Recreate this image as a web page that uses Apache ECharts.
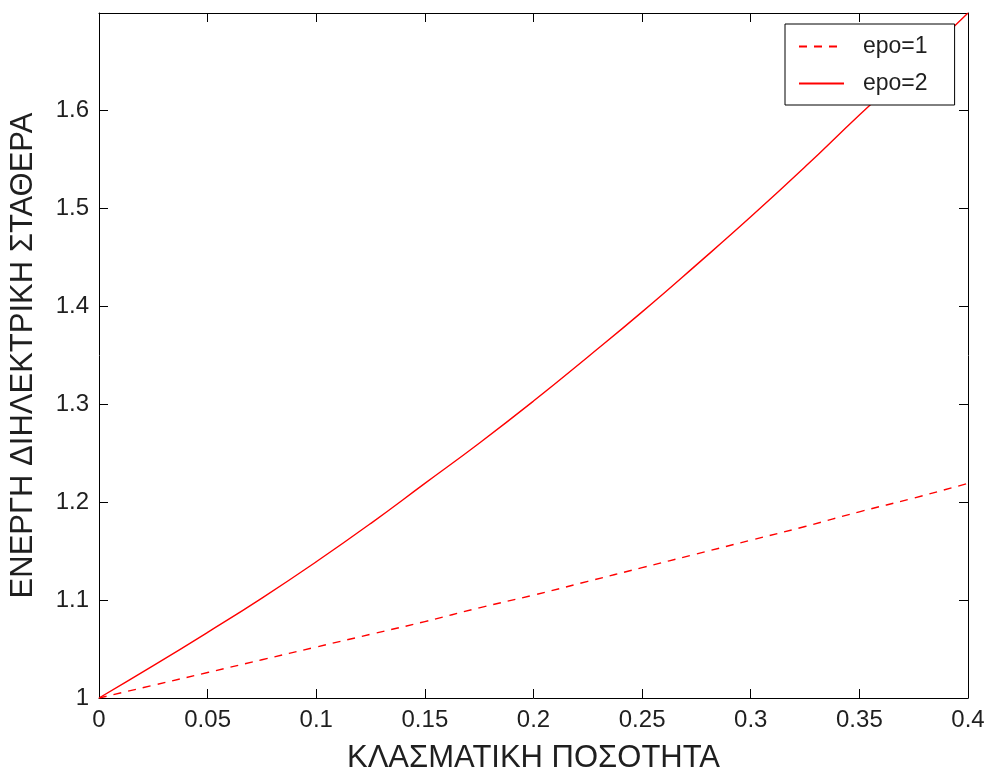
<!DOCTYPE html>
<html>
<head>
<meta charset="utf-8">
<script src="https://cdn.jsdelivr.net/npm/echarts@6/dist/echarts.min.js"></script>
<style>
html,body{margin:0;padding:0;background:#fff;}
#chart{width:989px;height:773px;}
</style>
</head>
<body>
<div id="chart"></div>
<script>
// Data
const xValues = [0, 0.025, 0.05, 0.075, 0.1, 0.125, 0.15, 0.175, 0.2, 0.225, 0.25, 0.275, 0.3, 0.325, 0.35, 0.375, 0.4];
const epo1 = [1.000, 1.013, 1.026, 1.039, 1.052, 1.065, 1.078, 1.092, 1.105, 1.119, 1.133, 1.147, 1.161, 1.175, 1.190, 1.204, 1.219];
const epo2 = [1.000, 1.033, 1.067, 1.102, 1.139, 1.178, 1.219, 1.260, 1.303, 1.348, 1.394, 1.442, 1.491, 1.542, 1.595, 1.646, 1.699];
const seriesNames = ['epo=1', 'epo=2'];
const xTitle = 'ΚΛΑΣΜΑΤΙΚΗ ΠΟΣΟΤΗΤΑ';
const yTitle = 'ΕΝΕΡΓΗ ΔΙΗΛΕΚΤΡΙΚΗ ΣΤΑΘΕΡΑ';

const pair = (xs, ys) => xs.map((x, i) => [x, ys[i]]);
const font = 'Liberation Sans, Arial, Helvetica, sans-serif';
const txt = '#1f1f1f';

const chart = echarts.init(document.getElementById('chart'), null, {renderer: 'canvas'});
const mkLine = () => ({show: true, onZero: false, lineStyle: {color: '#000', width: 1}});
const mkTick = () => ({show: true, inside: true, length: 9, lineStyle: {color: '#000', width: 1}});
const mkX = (extra) => Object.assign({
  type: 'value', min: 0, max: 0.4, interval: 0.05,
  splitLine: {show: false}, axisLine: mkLine(), axisTick: mkTick()
}, extra);
const mkY = (extra) => Object.assign({
  type: 'value', min: 1, max: 1.699, interval: 0.1,
  splitLine: {show: false}, axisLine: mkLine(), axisTick: mkTick()
}, extra);

chart.setOption({
  animation: false,
  backgroundColor: '#fff',
  grid: {left: 99, right: 21, top: 13, bottom: 75, containLabel: false, outerBoundsMode: 'none'},
  legend: {
    data: seriesNames,
    orient: 'vertical',
    left: 785, top: 24,
    itemWidth: 45, itemHeight: 20, itemGap: 14,
    padding: [11, 27, 10, 13],
    backgroundColor: '#fff',
    borderColor: '#000', borderWidth: 1,
    itemStyle: {opacity: 0},
    textStyle: {fontFamily: font, fontSize: 23, color: txt, padding: [0, 0, 0, 14]}
  },
  xAxis: [
    mkX({
      position: 'bottom',
      axisLabel: {show: true, margin: 10, fontFamily: font, fontSize: 24, color: txt},
      name: xTitle, nameLocation: 'middle', nameGap: 45,
      nameTextStyle: {fontFamily: font, fontSize: 31, color: txt}
    }),
    mkX({position: 'top', axisLabel: {show: false}})
  ],
  yAxis: [
    mkY({
      position: 'left',
      axisLabel: {show: true, margin: 10, fontFamily: font, fontSize: 24, color: txt, showMaxLabel: false},
      name: yTitle, nameLocation: 'middle', nameGap: 60, nameRotate: 90,
      nameTextStyle: {fontFamily: font, fontSize: 31, color: txt}
    }),
    mkY({position: 'right', axisLabel: {show: false}})
  ],
  series: [
    {
      name: seriesNames[0], type: 'line', data: pair(xValues, epo1),
      xAxisIndex: 0, yAxisIndex: 0,
      symbol: 'none', smooth: true,
      lineStyle: {color: '#ff0000', width: 1.4, type: [8, 7]},
      itemStyle: {color: '#ff0000'}
    },
    {
      name: seriesNames[1], type: 'line', data: pair(xValues, epo2),
      xAxisIndex: 0, yAxisIndex: 0,
      symbol: 'none', smooth: true,
      lineStyle: {color: '#ff0000', width: 1.4, type: 'solid'},
      itemStyle: {color: '#ff0000'}
    }
  ]
});
</script>
</body>
</html>
